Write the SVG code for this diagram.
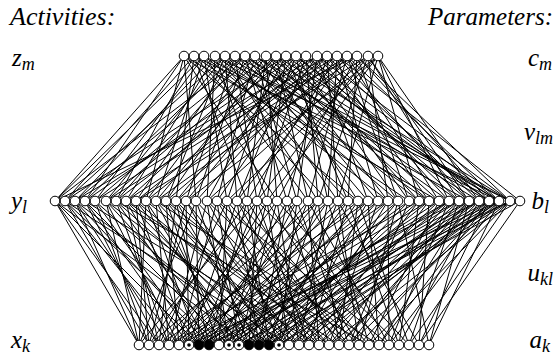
<svg xmlns="http://www.w3.org/2000/svg" width="554" height="356" viewBox="0 0 554 356">
<style>
.t{font-family:"Liberation Serif","Times New Roman",serif;font-style:italic;font-size:25px;fill:#000}
.s{font-size:18px}
.e{stroke:#000;stroke-width:1;fill:none}
circle{fill:#fff;stroke:#000;stroke-width:1}
circle.b{fill:#000}
circle.d{fill:#000;stroke:none}
</style>
<rect width="554" height="356" fill="#fff"/>
<g id="connectors">
<path class="e" d="M184 56L55 201M184 56L85 201M184 56L146 201M184 56L196 201M184 56L277 201M184 56L358 201M184 56L439 201
M194 56L65 201M194 56L116 201M194 56L176 201M194 56L247 201M194 56L328 201M194 56L409 201M194 56L499 201
M204 56L55 201M204 56L95 201M204 56L156 201M204 56L227 201M204 56L308 201M204 56L388 201M204 56L469 201
M215 56L75 201M215 56L126 201M215 56L207 201M215 56L267 201M215 56L348 201M215 56L429 201M215 56L510 201
M225 56L65 201M225 56L106 201M225 56L166 201M225 56L237 201M225 56L318 201M225 56L398 201M225 56L489 201
M235 56L85 201M235 56L136 201M235 56L186 201M235 56L257 201M235 56L338 201M235 56L419 201M235 56L510 201
M245 56L55 201M245 56L116 201M245 56L196 201M245 56L287 201M245 56L368 201M245 56L449 201M245 56L479 201
M255 56L75 201M255 56L146 201M255 56L217 201M255 56L297 201M255 56L378 201M255 56L459 201M255 56L499 201
M266 56L95 201M266 56L166 201M266 56L247 201M266 56L277 201M266 56L358 201M266 56L429 201M266 56L499 201
M276 56L106 201M276 56L156 201M276 56L227 201M276 56L308 201M276 56L388 201M276 56L439 201M276 56L510 201
M286 56L65 201M286 56L126 201M286 56L207 201M286 56L267 201M286 56L348 201M286 56L419 201M286 56L489 201
M296 56L85 201M296 56L176 201M296 56L237 201M296 56L328 201M296 56L398 201M296 56L469 201M296 56L489 201
M306 56L116 201M306 56L186 201M306 56L257 201M306 56L318 201M306 56L409 201M306 56L459 201M306 56L499 201
M317 56L75 201M317 56L136 201M317 56L217 201M317 56L297 201M317 56L368 201M317 56L449 201M317 56L510 201
M327 56L95 201M327 56L146 201M327 56L196 201M327 56L287 201M327 56L338 201M327 56L429 201M327 56L479 201
M337 56L106 201M337 56L166 201M337 56L247 201M337 56L328 201M337 56L378 201M337 56L469 201M337 56L520 201
M347 56L126 201M347 56L176 201M347 56L237 201M347 56L308 201M347 56L398 201M347 56L439 201M347 56L499 201
M357 56L55 201M357 56L156 201M357 56L277 201M357 56L348 201M357 56L409 201M357 56L489 201M357 56L510 201
M368 56L136 201M368 56L207 201M368 56L257 201M368 56L318 201M368 56L388 201M368 56L459 201M368 56L469 201
M378 56L186 201M378 56L227 201M378 56L267 201M378 56L338 201M378 56L419 201M378 56L449 201M378 56L479 201"/>
<path class="e" d="M139 345L55 201M139 345L75 201M139 345L106 201M139 345L146 201M139 345L196 201M139 345L257 201
M149 345L65 201M149 345L95 201M149 345L136 201M149 345L186 201M149 345L247 201M149 345L318 201
M159 345L55 201M159 345L85 201M159 345L126 201M159 345L176 201M159 345L227 201M159 345L297 201M159 345L368 201
M169 345L75 201M169 345L116 201M169 345L156 201M169 345L207 201M169 345L277 201M169 345L348 201M169 345L419 201
M179 345L65 201M179 345L106 201M179 345L166 201M179 345L217 201M179 345L267 201M179 345L328 201M179 345L388 201M179 345L459 201
M189 345L85 201M189 345L136 201M189 345L186 201M189 345L237 201M189 345L308 201M189 345L358 201M189 345L429 201M189 345L499 201
M199 345L55 201M199 345L95 201M199 345L146 201M199 345L196 201M199 345L257 201M199 345L318 201M199 345L378 201M199 345L449 201M199 345L479 201
M209 345L75 201M209 345L126 201M209 345L176 201M209 345L247 201M209 345L287 201M209 345L338 201M209 345L409 201M209 345L469 201M209 345L510 201
M219 345L65 201M219 345L116 201M219 345L166 201M219 345L227 201M219 345L297 201M219 345L368 201M219 345L439 201M219 345L489 201
M229 345L85 201M229 345L156 201M229 345L207 201M229 345L267 201M229 345L328 201M229 345L398 201M229 345L459 201M229 345L449 201
M239 345L106 201M239 345L146 201M239 345L217 201M239 345L277 201M239 345L348 201M239 345L388 201M239 345L479 201M239 345L510 201
M249 345L55 201M249 345L136 201M249 345L196 201M249 345L257 201M249 345L308 201M249 345L378 201M249 345L429 201M249 345L499 201
M259 345L95 201M259 345L176 201M259 345L237 201M259 345L287 201M259 345L358 201M259 345L419 201M259 345L469 201M259 345L520 201
M269 345L75 201M269 345L126 201M269 345L186 201M269 345L247 201M269 345L318 201M269 345L409 201M269 345L449 201M269 345L489 201
M279 345L116 201M279 345L166 201M279 345L227 201M279 345L297 201M279 345L338 201M279 345L398 201M279 345L479 201M279 345L510 201
M289 345L65 201M289 345L156 201M289 345L207 201M289 345L267 201M289 345L368 201M289 345L439 201M289 345L499 201
M299 345L106 201M299 345L186 201M299 345L277 201M299 345L328 201M299 345L388 201M299 345L459 201M299 345L499 201
M309 345L136 201M309 345L217 201M309 345L257 201M309 345L348 201M309 345L419 201M309 345L489 201
M319 345L85 201M319 345L176 201M319 345L237 201M319 345L308 201M319 345L429 201M319 345L469 201
M329 345L146 201M329 345L196 201M329 345L287 201M329 345L378 201M329 345L449 201M329 345L510 201
M339 345L126 201M339 345L247 201M339 345L318 201M339 345L358 201M339 345L479 201M339 345L469 201
M349 345L166 201M349 345L227 201M349 345L297 201M349 345L409 201M349 345L459 201M349 345L499 201
M359 345L207 201M359 345L267 201M359 345L338 201M359 345L398 201M359 345L489 201
M369 345L116 201M369 345L237 201M369 345L328 201M369 345L439 201M369 345L510 201
M379 345L156 201M379 345L287 201M379 345L368 201M379 345L469 201M379 345L489 201
M389 345L217 201M389 345L308 201M389 345L388 201M389 345L449 201M389 345L499 201
M399 345L257 201M399 345L348 201M399 345L419 201M399 345L479 201
M409 345L277 201M409 345L358 201M409 345L459 201M409 345L510 201
M419 345L338 201M419 345L429 201M419 345L489 201M419 345L520 201
M429 345L398 201M429 345L469 201M429 345L499 201"/>
</g>
<g id="top-row">
<g id="z0"><circle cx="184" cy="56" r="4.8"/></g>
<g id="z1"><circle cx="194" cy="56" r="4.8"/></g>
<g id="z2"><circle cx="204" cy="56" r="4.8"/></g>
<g id="z3"><circle cx="215" cy="56" r="4.8"/></g>
<g id="z4"><circle cx="225" cy="56" r="4.8"/></g>
<g id="z5"><circle cx="235" cy="56" r="4.8"/></g>
<g id="z6"><circle cx="245" cy="56" r="4.8"/></g>
<g id="z7"><circle cx="255" cy="56" r="4.8"/></g>
<g id="z8"><circle cx="266" cy="56" r="4.8"/></g>
<g id="z9"><circle cx="276" cy="56" r="4.8"/></g>
<g id="z10"><circle cx="286" cy="56" r="4.8"/></g>
<g id="z11"><circle cx="296" cy="56" r="4.8"/></g>
<g id="z12"><circle cx="306" cy="56" r="4.8"/></g>
<g id="z13"><circle cx="317" cy="56" r="4.8"/></g>
<g id="z14"><circle cx="327" cy="56" r="4.8"/></g>
<g id="z15"><circle cx="337" cy="56" r="4.8"/></g>
<g id="z16"><circle cx="347" cy="56" r="4.8"/></g>
<g id="z17"><circle cx="357" cy="56" r="4.8"/></g>
<g id="z18"><circle cx="368" cy="56" r="4.8"/></g>
<g id="z19"><circle cx="378" cy="56" r="4.8"/></g>
</g>
<g id="middle-row">
<g id="y0"><circle cx="55" cy="201" r="4.8"/></g>
<g id="y1"><circle cx="65" cy="201" r="4.8"/></g>
<g id="y2"><circle cx="75" cy="201" r="4.8"/></g>
<g id="y3"><circle cx="85" cy="201" r="4.8"/></g>
<g id="y4"><circle cx="95" cy="201" r="4.8"/></g>
<g id="y5"><circle cx="106" cy="201" r="4.8"/></g>
<g id="y6"><circle cx="116" cy="201" r="4.8"/></g>
<g id="y7"><circle cx="126" cy="201" r="4.8"/></g>
<g id="y8"><circle cx="136" cy="201" r="4.8"/></g>
<g id="y9"><circle cx="146" cy="201" r="4.8"/></g>
<g id="y10"><circle cx="156" cy="201" r="4.8"/></g>
<g id="y11"><circle cx="166" cy="201" r="4.8"/></g>
<g id="y12"><circle cx="176" cy="201" r="4.8"/></g>
<g id="y13"><circle cx="186" cy="201" r="4.8"/></g>
<g id="y14"><circle cx="196" cy="201" r="4.8"/></g>
<g id="y15"><circle cx="207" cy="201" r="4.8"/></g>
<g id="y16"><circle cx="217" cy="201" r="4.8"/></g>
<g id="y17"><circle cx="227" cy="201" r="4.8"/></g>
<g id="y18"><circle cx="237" cy="201" r="4.8"/></g>
<g id="y19"><circle cx="247" cy="201" r="4.8"/></g>
<g id="y20"><circle cx="257" cy="201" r="4.8"/></g>
<g id="y21"><circle cx="267" cy="201" r="4.8"/></g>
<g id="y22"><circle cx="277" cy="201" r="4.8"/></g>
<g id="y23"><circle cx="287" cy="201" r="4.8"/></g>
<g id="y24"><circle cx="297" cy="201" r="4.8"/></g>
<g id="y25"><circle cx="308" cy="201" r="4.8"/></g>
<g id="y26"><circle cx="318" cy="201" r="4.8"/></g>
<g id="y27"><circle cx="328" cy="201" r="4.8"/></g>
<g id="y28"><circle cx="338" cy="201" r="4.8"/></g>
<g id="y29"><circle cx="348" cy="201" r="4.8"/></g>
<g id="y30"><circle cx="358" cy="201" r="4.8"/></g>
<g id="y31"><circle cx="368" cy="201" r="4.8"/></g>
<g id="y32"><circle cx="378" cy="201" r="4.8"/></g>
<g id="y33"><circle cx="388" cy="201" r="4.8"/></g>
<g id="y34"><circle cx="398" cy="201" r="4.8"/></g>
<g id="y35"><circle cx="409" cy="201" r="4.8"/></g>
<g id="y36"><circle cx="419" cy="201" r="4.8"/></g>
<g id="y37"><circle cx="429" cy="201" r="4.8"/></g>
<g id="y38"><circle cx="439" cy="201" r="4.8"/></g>
<g id="y39"><circle cx="449" cy="201" r="4.8"/></g>
<g id="y40"><circle cx="459" cy="201" r="4.8"/></g>
<g id="y41"><circle cx="469" cy="201" r="4.8"/></g>
<g id="y42"><circle cx="479" cy="201" r="4.8"/></g>
<g id="y43"><circle cx="489" cy="201" r="4.8"/></g>
<g id="y44"><circle cx="499" cy="201" r="4.8"/></g>
<g id="y45"><circle cx="510" cy="201" r="4.8"/></g>
<g id="y46"><circle cx="520" cy="201" r="4.8"/></g>
</g>
<g id="bottom-row">
<g id="x0"><circle cx="139" cy="345" r="4.8"/></g>
<g id="x1"><circle cx="149" cy="345" r="4.8"/></g>
<g id="x2"><circle cx="159" cy="345" r="4.8"/></g>
<g id="x3"><circle cx="169" cy="345" r="4.8"/></g>
<g id="x4"><circle cx="179" cy="345" r="4.8"/></g>
<g id="x5"><circle cx="189" cy="345" r="4.8"/><circle class="d" cx="189" cy="345" r="1.8"/></g>
<g id="x6"><circle class="b" cx="199" cy="345" r="4.8"/></g>
<g id="x7"><circle class="b" cx="209" cy="345" r="4.8"/></g>
<g id="x8"><circle cx="219" cy="345" r="4.8"/></g>
<g id="x9"><circle cx="229" cy="345" r="4.8"/><circle class="d" cx="229" cy="345" r="1.8"/></g>
<g id="x10"><circle cx="239" cy="345" r="4.8"/><circle class="d" cx="239" cy="345" r="1.8"/></g>
<g id="x11"><circle class="b" cx="249" cy="345" r="4.8"/></g>
<g id="x12"><circle class="b" cx="259" cy="345" r="4.8"/></g>
<g id="x13"><circle class="b" cx="269" cy="345" r="4.8"/></g>
<g id="x14"><circle cx="279" cy="345" r="4.8"/><circle class="d" cx="279" cy="345" r="1.8"/></g>
<g id="x15"><circle cx="289" cy="345" r="4.8"/></g>
<g id="x16"><circle cx="299" cy="345" r="4.8"/></g>
<g id="x17"><circle cx="309" cy="345" r="4.8"/></g>
<g id="x18"><circle cx="319" cy="345" r="4.8"/></g>
<g id="x19"><circle cx="329" cy="345" r="4.8"/></g>
<g id="x20"><circle cx="339" cy="345" r="4.8"/></g>
<g id="x21"><circle cx="349" cy="345" r="4.8"/></g>
<g id="x22"><circle cx="359" cy="345" r="4.8"/></g>
<g id="x23"><circle cx="369" cy="345" r="4.8"/></g>
<g id="x24"><circle cx="379" cy="345" r="4.8"/></g>
<g id="x25"><circle cx="389" cy="345" r="4.8"/></g>
<g id="x26"><circle cx="399" cy="345" r="4.8"/></g>
<g id="x27"><circle cx="409" cy="345" r="4.8"/></g>
<g id="x28"><circle cx="419" cy="345" r="4.8"/></g>
<g id="x29"><circle cx="429" cy="345" r="4.8"/></g>
</g>
<g id="labels">
<text class="t" x="10" y="25" style="font-size:26px">Activities:</text>
<text class="t" x="553" y="25" text-anchor="end">Parameters:</text>
<text class="t" x="12" y="66">z<tspan class="s" dy="4">m</tspan></text>
<text class="t" x="11" y="209">y<tspan class="s" dy="4">l</tspan></text>
<text class="t" x="11" y="348">x<tspan class="s" dy="4">k</tspan></text>
<text class="t" x="552" y="66" text-anchor="end">c<tspan class="s" dy="4">m</tspan></text>
<text class="t" x="553" y="140" text-anchor="end">v<tspan class="s" dy="4">lm</tspan></text>
<text class="t" x="549" y="209" text-anchor="end">b<tspan class="s" dy="4">l</tspan></text>
<text class="t" x="553" y="281" text-anchor="end">u<tspan class="s" dy="4">kl</tspan></text>
<text class="t" x="550" y="348" text-anchor="end">a<tspan class="s" dy="4">k</tspan></text>
</g>
</svg>
